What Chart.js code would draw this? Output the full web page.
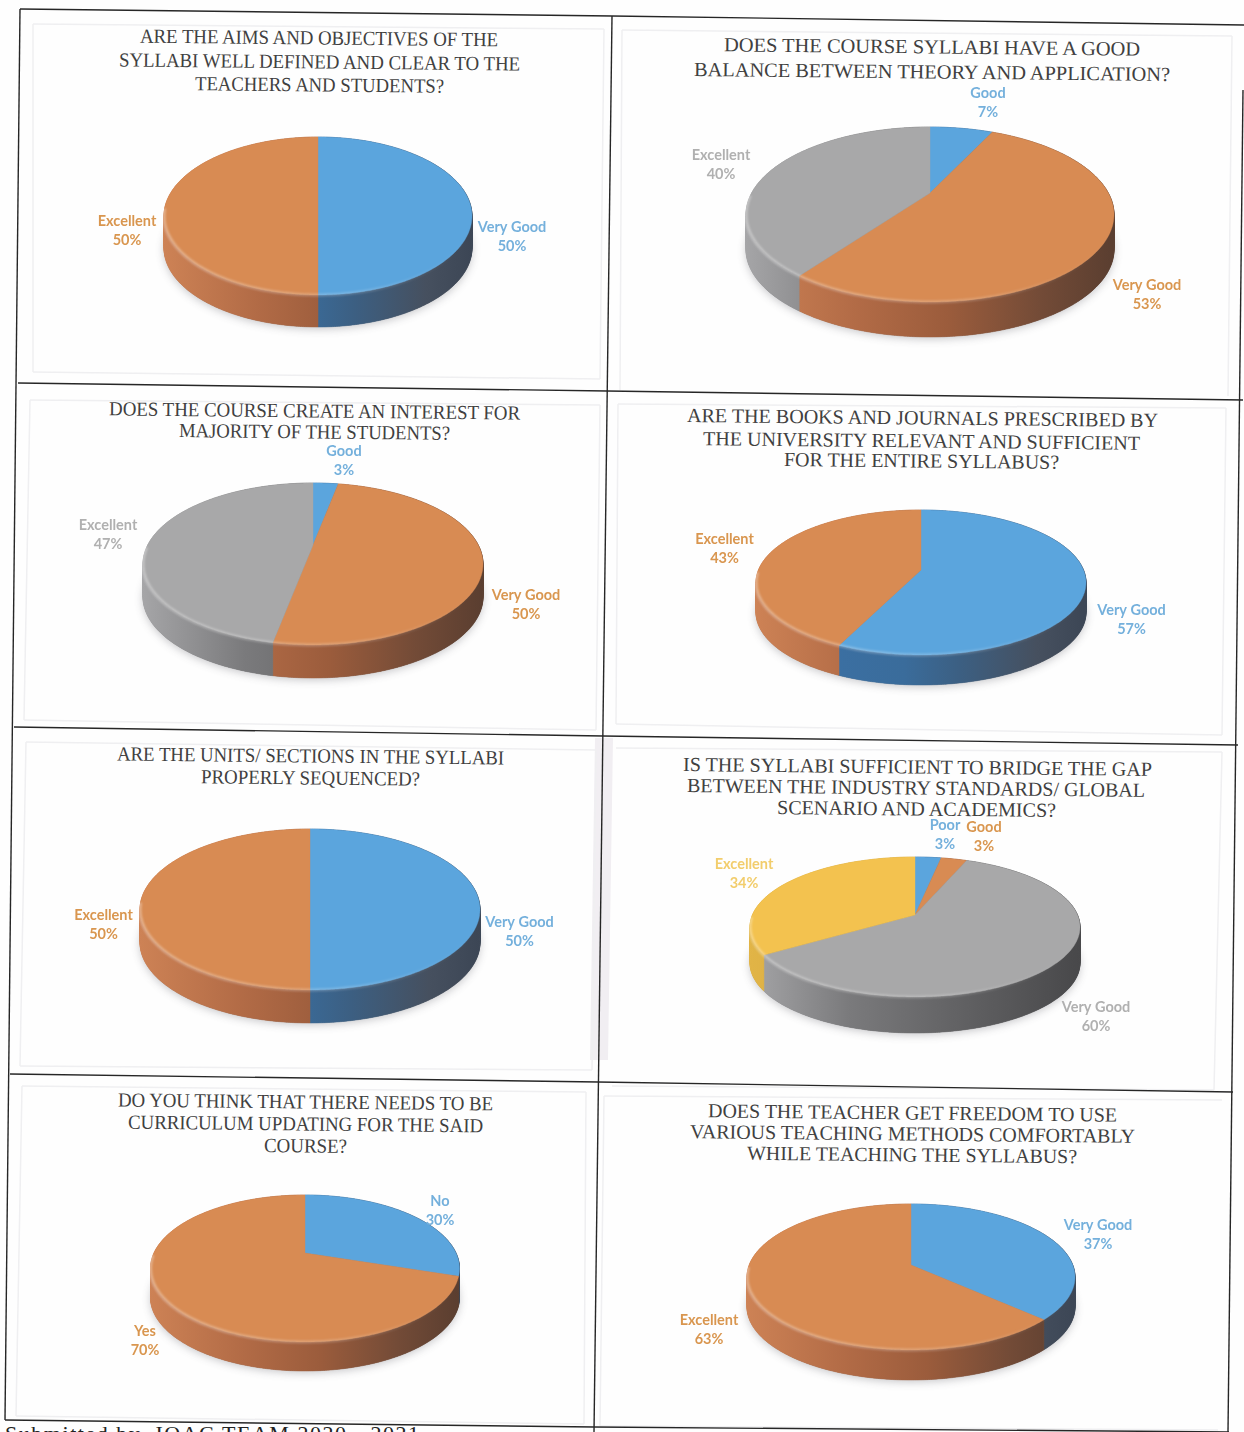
<!DOCTYPE html>
<html><head><meta charset="utf-8">
<style>
html,body{margin:0;padding:0;background:#fefefe;}
#page{position:relative;width:1244px;height:1432px;overflow:hidden;background:#fefefe;filter:blur(0.45px);}
canvas{position:absolute;}
svg{position:absolute;left:0;top:0;}
</style>
<script src="https://cdn.jsdelivr.net/npm/chart.js@4"></script>
</head><body><div id="page"><svg id="frame" width="1244" height="1432"></svg></div>
<script>
// ---------- data ----------
const aimsLabels = ['Very Good','Excellent'];            const aimsValues = [50,50];
const balanceLabels = ['Good','Very Good','Excellent'];  const balanceValues = [7,53,40];
const interestLabels = ['Good','Very Good','Excellent']; const interestValues = [3,50,47];
const booksLabels = ['Very Good','Excellent'];           const booksValues = [57,43];
const unitsLabels = ['Very Good','Excellent'];           const unitsValues = [50,50];
const gapLabels = ['Poor','Good','Very Good','Excellent'];const gapValues = [3,3,60,34];
const updateLabels = ['No','Yes'];                       const updateValues = [30,70];
const freedomLabels = ['Very Good','Excellent'];         const freedomValues = [37,63];

const aimsTitle = ['ARE THE AIMS AND OBJECTIVES OF THE','SYLLABI WELL DEFINED AND CLEAR TO THE','TEACHERS AND STUDENTS?'];
const balanceTitle = ['DOES THE COURSE SYLLABI HAVE A GOOD','BALANCE BETWEEN THEORY AND APPLICATION?'];
const interestTitle = ['DOES THE COURSE CREATE AN INTEREST FOR','MAJORITY OF THE STUDENTS?'];
const booksTitle = ['ARE THE BOOKS AND JOURNALS PRESCRIBED BY','THE UNIVERSITY RELEVANT AND SUFFICIENT','FOR THE ENTIRE SYLLABUS?'];
const unitsTitle = ['ARE THE UNITS/ SECTIONS IN THE SYLLABI','PROPERLY SEQUENCED?'];
const gapTitle = ['IS THE SYLLABI SUFFICIENT TO BRIDGE THE GAP','BETWEEN THE INDUSTRY STANDARDS/ GLOBAL','SCENARIO AND ACADEMICS?'];
const updateTitle = ['DO YOU THINK THAT THERE NEEDS TO BE','CURRICULUM UPDATING FOR THE SAID','COURSE?'];
const freedomTitle = ['DOES THE TEACHER GET FREEDOM TO USE','VARIOUS TEACHING METHODS COMFORTABLY','WHILE TEACHING THE SYLLABUS?'];
const footerText = 'Submitted by  IQAC TEAM 2020 - 2021';

// ---------- styles and layout ----------
const BLUE='#5ba5dd',ORANGE='#d88b53',GRAY='#a8a8a9',YELLOW='#f3c24f';
const LBL={[BLUE]:'#74b0dc',[ORANGE]:'#d9964f',[GRAY]:'#b0b0b0',[YELLOW]:'#f2cd6c'};
// ax,ay = where the slices meet; rx = half width; top/front = y of the top face; depth = wall height
const panels=[
 {labels:aimsLabels,values:aimsValues,colors:[BLUE,ORANGE],ax:318,ay:206,rx:154,top:137,front:295,depth:32,
  pos:[[512,227],[127,221]]},
 {labels:balanceLabels,values:balanceValues,colors:[BLUE,ORANGE,GRAY],ax:930,ay:193,rx:184,top:127,front:302,depth:35,
  pos:[[988,93],[1147,285],[721,155]]},
 {labels:interestLabels,values:interestValues,colors:[BLUE,ORANGE,GRAY],ax:313,ay:545,rx:170,top:483,front:645,depth:33,
  pos:[[344,451],[526,595],[108,525]]},
 {labels:booksLabels,values:booksValues,colors:[BLUE,ORANGE],ax:920.5,ay:570,rx:165,top:510,front:655,depth:30,
  pos:[[1131,610],[724,539]]},
 {labels:unitsLabels,values:unitsValues,colors:[BLUE,ORANGE],ax:309.5,ay:900,rx:170,top:829,front:990,depth:33,
  pos:[[519,922],[103,915]]},
 {labels:gapLabels,values:gapValues,colors:[BLUE,ORANGE,GRAY,YELLOW],ax:915,ay:915,rx:165,top:857,front:997,depth:36,
  pos:[[945,825],[984,827],[1096,1007],[744,864]]},
 {labels:updateLabels,values:updateValues,colors:[BLUE,ORANGE],ax:305,ay:1253,rx:154.5,top:1195,front:1342,depth:29,
  pos:[[440,1201],[145,1331]]},
 {labels:freedomLabels,values:freedomValues,colors:[BLUE,ORANGE],ax:911,ay:1265,rx:164,top:1204,front:1350,depth:30,
  pos:[[1098,1225],[709,1320]]}
];
const titles=[
 {lines:aimsTitle,spec:[[319,44.5,358],[319.5,68.5,401],[319.5,91.5,249]]},
 {lines:balanceTitle,spec:[[932,53.5,416],[932,78.5,476]]},
 {lines:interestTitle,spec:[[314.5,417.5,411],[314.5,438.5,271]]},
 {lines:booksTitle,spec:[[922.5,424.5,471],[921.5,447.5,437],[921.5,467.5,275]]},
 {lines:unitsTitle,spec:[[310.5,762.5,387],[310.5,784.5,219]]},
 {lines:gapTitle,spec:[[917.5,773.5,469],[916,794.5,458],[916.5,815.5,279]]},
 {lines:updateTitle,spec:[[305.5,1108.5,375],[305.5,1130.5,355],[305.5,1152.5,83]]},
 {lines:freedomTitle,spec:[[912.5,1119.5,409],[912.5,1140.5,445],[912,1161.5,330]]}
];
const ruleLines=[[20,9,612,16],[612,16,1244,25],[18,383,607,391],[607,391,1243,400],[14,727,603,736],[603,736,1238,745],
 [10,1074,598,1082],[598,1082,1233,1092],[5,1420,594,1427],[594,1427,1229,1432],
 [20,9,5,1420],[612,16,594,1432],[1243,90,1228,1432]];
const frameLines=[[33,24,604,29],[604,29,600,379],[600,379,33,372],[33,372,33,24],
 [622,30,1232,36],[1232,36,1228,396],[622,30,620,390],
 [30,400,600,405],[600,405,596,730],[24,720,596,730],[30,400,24,720],
 [618,404,1226,408],[1226,408,1222,735],[618,404,616,724],[616,724,1222,735],
 [26,742,596,750],[596,750,592,1070],[20,1066,592,1070],[26,742,20,1066],
 [616,748,1222,752],[1222,752,1214,1090],[612,1086,1214,1090],
 [22,1086,586,1092],[586,1092,584,1424],[16,1416,584,1424],[22,1086,16,1416],
 [604,1096,1222,1100],[604,1096,600,1426],[600,1426,1218,1430]];

const wallStops={
 [BLUE]:[[0,'rgb(60,115,170)'],[.45,'rgb(58,108,155)'],[.62,'rgb(60,95,130)'],[.85,'rgb(70,80,95)'],[1,'rgb(60,70,85)']],
 [ORANGE]:[[0,'rgb(205,130,85)'],[.3,'rgb(178,107,70)'],[.55,'rgb(155,92,60)'],[.8,'rgb(115,75,55)'],[1,'rgb(90,62,48)']],
 [GRAY]:[[0,'rgb(165,165,167)'],[.3,'rgb(122,122,124)'],[.6,'rgb(100,100,102)'],[1,'rgb(72,72,74)']],
 [YELLOW]:[[0,'rgb(225,180,70)'],[1,'rgb(190,150,60)']]
};

const SIZE=620;
const pie3d={
  id:'pie3d',
  beforeDatasetDraw(chart,args,opts){
    const ctx=chart.ctx,meta=chart.getDatasetMeta(0),cfg=opts.cfg;
    const t=cfg.ay-cfg.top,b=cfg.front-cfg.ay,p=(b-t)/(b+t),k=t*(1+p);
    const arc0=meta.data[0],R=arc0.outerRadius;
    const map=a=>{const u=Math.cos(a),v=Math.sin(a),s=1/(1-p*v);
      return [arc0.x+R*u*s, arc0.y+k*v*s];};
    const steps=a=>Math.max(4,Math.ceil(a*90));
    // soft shadow under the cake
    ctx.save();
    ctx.shadowColor='rgba(70,70,80,.3)';ctx.shadowBlur=8;ctx.shadowOffsetY=2;
    ctx.beginPath();
    for(let i=0;i<=200;i++){const q=map(i/200*2*Math.PI);ctx[i?'lineTo':'moveTo'](q[0],q[1]+cfg.depth);}
    ctx.closePath();ctx.fillStyle='#777';ctx.fill();ctx.restore();
    // side wall
    meta.data.forEach((arc,i)=>{
      const col=cfg.colors[i],n=steps(arc.endAngle-arc.startAngle);
      const g=ctx.createLinearGradient(arc0.x-cfg.rx,0,arc0.x+cfg.rx,0);
      wallStops[col].forEach(s=>g.addColorStop(s[0],s[1]));
      ctx.beginPath();
      for(let j=0;j<n;j++){
        const a=map(arc.startAngle+(arc.endAngle-arc.startAngle)*j/n);
        const c=map(arc.startAngle+(arc.endAngle-arc.startAngle)*(j+1)/n);
        ctx.moveTo(a[0],a[1]);ctx.lineTo(c[0],c[1]);ctx.lineTo(c[0],c[1]+cfg.depth);ctx.lineTo(a[0],a[1]+cfg.depth);ctx.closePath();
      }
      ctx.fillStyle=g;ctx.fill('nonzero');
      ctx.strokeStyle=g;ctx.lineWidth=.5;ctx.stroke();
    });
    // top face
    meta.data.forEach((arc,i)=>{
      const n=steps(arc.endAngle-arc.startAngle);
      ctx.beginPath();ctx.moveTo(arc0.x,arc0.y);
      for(let j=0;j<=n;j++){const q=map(arc.startAngle+(arc.endAngle-arc.startAngle)*j/n);ctx.lineTo(q[0],q[1]);}
      ctx.closePath();ctx.fillStyle=cfg.colors[i];ctx.fill();
      ctx.strokeStyle=cfg.colors[i];ctx.lineWidth=.4;ctx.stroke();
    });
    // bevel on the front rim, fading to the right
    ctx.save();
    const hg=ctx.createLinearGradient(arc0.x-cfg.rx,0,arc0.x+cfg.rx,0);
    hg.addColorStop(0,'rgba(255,255,255,.34)');hg.addColorStop(.6,'rgba(255,255,255,.2)');hg.addColorStop(.85,'rgba(255,255,255,.05)');hg.addColorStop(1,'rgba(255,255,255,0)');
    ctx.beginPath();
    for(let i=0;i<=120;i++){const a=Math.PI*.99-i/120*Math.PI*.98,q=map(a);ctx[i?'lineTo':'moveTo'](q[0],q[1]);}
    ctx.strokeStyle=hg;ctx.lineWidth=3;ctx.filter='blur(1.2px)';ctx.stroke();
    ctx.restore();
    // data labels
    ctx.save();
    ctx.font='700 14.5px Lato';ctx.textAlign='center';ctx.textBaseline='middle';
    meta.data.forEach((arc,i)=>{
      const px=cfg.pos[i][0]-cfg.ax+arc0.x,py=cfg.pos[i][1]-cfg.ay+arc0.y;
      ctx.fillStyle=LBL[cfg.colors[i]];
      ctx.fillText(chart.data.labels[i],px,py);
      ctx.fillText(chart.data.datasets[0].data[i]+'%',px,py+19.5);
    });
    ctx.restore();
    return false;
  }
};

const page=document.getElementById('page');
panels.forEach(cfg=>{
  const cv=document.createElement('canvas');
  cv.width=SIZE;cv.height=SIZE;
  cv.style.width=SIZE+'px';cv.style.height=SIZE+'px';
  cv.style.left=(cfg.ax-SIZE/2)+'px';cv.style.top=(cfg.ay-SIZE/2)+'px';
  page.appendChild(cv);
  const t=cfg.ay-cfg.top,b=cfg.front-cfg.ay,p=(b-t)/(b+t);
  new Chart(cv,{
    type:'pie',
    data:{labels:cfg.labels,datasets:[{data:cfg.values,backgroundColor:cfg.colors,borderWidth:0}]},
    options:{responsive:false,animation:false,radius:cfg.rx*Math.sqrt(1-p*p),layout:{padding:0},
      plugins:{legend:{display:false},tooltip:{enabled:false},title:{display:false},pie3d:{cfg}}},
    plugins:[pie3d]
  });
});

// rules, faint picture frames, titles and footer
const NS='http://www.w3.org/2000/svg',svg=document.getElementById('frame');
function line(l,stroke,w){const e=document.createElementNS(NS,'line');
  e.setAttribute('x1',l[0]);e.setAttribute('y1',l[1]);e.setAttribute('x2',l[2]);e.setAttribute('y2',l[3]);
  e.setAttribute('stroke',stroke);e.setAttribute('stroke-width',w);svg.appendChild(e);}
const band=document.createElementNS(NS,'polygon');
band.setAttribute('points','595,738 613,738 608,1060 590,1060');band.setAttribute('fill','#f1eef2');svg.appendChild(band);
frameLines.forEach(l=>line(l,'#efeff1',1.5));
ruleLines.forEach(l=>line(l,'#262626',1.4));
titles.forEach(T=>T.lines.forEach((s,i)=>{
  const [x,y,w]=T.spec[i],e=document.createElementNS(NS,'text');
  e.textContent=s;e.setAttribute('x',x);e.setAttribute('y',y);
  e.setAttribute('text-anchor','middle');e.setAttribute('textLength',w);e.setAttribute('lengthAdjust','spacingAndGlyphs');
  e.setAttribute('font-family','Liberation Serif');e.setAttribute('font-size','20');e.setAttribute('fill','#404040');
  e.setAttribute('transform','rotate(0.6 '+x+' '+y+')');
  svg.appendChild(e);
}));
const f=document.createElementNS(NS,'text');
f.textContent=footerText;f.setAttribute('x',5);f.setAttribute('y',1441);f.setAttribute('font-family','Liberation Serif');
f.setAttribute('font-size','22');f.setAttribute('fill','#222');f.setAttribute('textLength','414');f.setAttribute('style','white-space:pre');svg.appendChild(f);
</script></body></html>
